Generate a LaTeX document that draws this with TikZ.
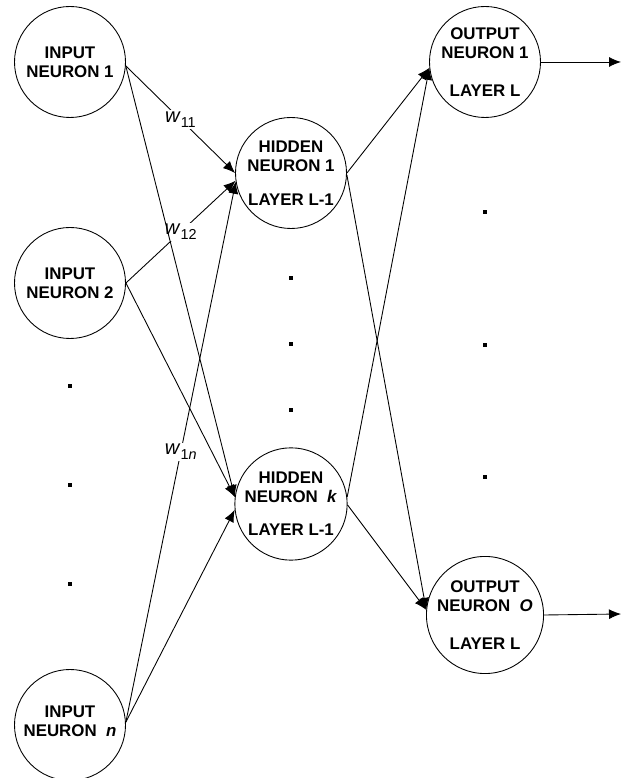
\documentclass[tikz,border=0pt]{standalone}
\usepackage{fontspec}
\setmainfont{Liberation Sans}
\usetikzlibrary{arrows.meta}
\newcommand{\wgt}[1]{\textit{w}\raisebox{-2.6pt}{\fontsize{8.2}{9}\selectfont #1}}
\tikzset{
  neuron/.style={circle, draw, line width=0.5pt, minimum size=2.22cm, inner sep=0pt,
    align=center, font=\fontsize{9.6}{10.8}\selectfont\bfseries},
  weight/.style={fill=white, inner sep=1pt, font=\fontsize{11.5}{12}\selectfont},
  link/.style={line width=0.5pt, -{Latex[length=2.4mm,width=2mm]}}
}
\begin{document}
\begin{tikzpicture}
        \useasboundingbox (0,0) rectangle (12.42,15.56);

        % Input neurons
        \node[neuron] (in1) at (1.40,14.32) {INPUT\\NEURON 1};
        \node[neuron] (in2) at (1.40,9.90) {INPUT\\NEURON 2};
        \node[neuron] (inn) at (1.40,1.06) {INPUT\\NEURON\ \ \textit{n}\\[-6pt]};

        % Hidden neurons
        \node[neuron] (hid1) at (5.82,12.10) {HIDDEN\\NEURON 1\\[8.5pt]LAYER L-1};
        \node[neuron] (hidk) at (5.82,5.48) {HIDDEN\\NEURON\ \ \textit{k}\\[8pt]LAYER L-1};

        % Output neurons
        \node[neuron] (out1) at (9.70,14.32) {OUTPUT\\NEURON 1\\[10.5pt]LAYER L};
        \node[neuron] (outO) at (9.70,3.26) {OUTPUT\\NEURON\ \ \textit{O}\\[10.5pt]LAYER L};
        \coordinate (y1) at (12.42,14.32);
        \coordinate (yO) at (12.42,3.28);

        % Dots
        \foreach \x/\y in {1.40/7.84, 1.40/5.86, 1.40/3.88,
                           5.82/10.00, 5.82/8.68, 5.82/7.36,
                           9.70/11.32, 9.70/8.66, 9.70/6.02}
            \fill (\x-0.035,\y-0.035) rectangle (\x+0.035,\y+0.035);

        % Weights
        \draw[link] (in1.-4) -- node[weight] {\wgt{11}} (hid1.180);
        \draw[link] (in2.east) -- node[weight] {\wgt{12}} (hid1.188);
        \draw[link] (inn.3) -- node[weight] {\wgt{1\textit{n}}} (hid1.189);

        % Other connections
        \draw[link] (in1.-4) -- (hidk.173);
        \draw[link] (in2.east) -- (hidk.173);
        \draw[link] (inn.3) -- (hidk.186);
        \draw[link] (hid1.east) -- (out1.186);
        \draw[link] (hid1.-2) -- (outO.175);
        \draw[link] (hidk.7) -- (out1.186);
        \draw[link] (hidk.-1) -- (outO.175);

        % Outputs
        \draw[link] (out1.east) -- (y1);
        \draw[link] (outO.east) -- (yO);
\end{tikzpicture}
\end{document}
